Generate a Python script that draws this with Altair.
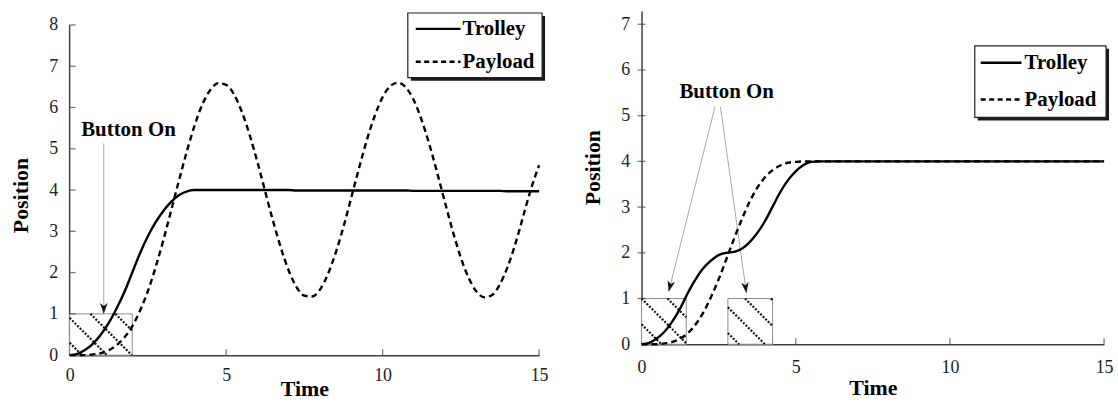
import math
import altair as alt
import pandas as pd

FONT = "Liberation Serif, DejaVu Serif, Times New Roman, serif"
AXIS_COLOR = "#404040"

# Sample times (s), shared by both runs
TIME = [0.0, 0.25, 0.5, 0.75, 1.0, 1.25, 1.5, 1.75, 2.0, 2.25, 2.5, 2.75,
        3.0, 3.25, 3.5, 3.75, 4.0, 4.25, 4.5, 4.75, 5.0, 5.25, 5.5, 5.75,
        6.0, 6.25, 6.5, 6.75, 7.0, 7.25, 7.5, 7.75, 8.0, 8.25, 8.5, 8.75,
        9.0, 9.25, 9.5, 9.75, 10.0, 10.25, 10.5, 10.75, 11.0, 11.25, 11.5, 11.75,
        12.0, 12.25, 12.5, 12.75, 13.0, 13.25, 13.5, 13.75, 14.0, 14.25, 14.5, 14.75,
        15.0]

# Run 1: one long button press
TROLLEY_1 = [0.00, 0.03, 0.13, 0.28, 0.50, 0.78, 1.13, 1.53, 2.00, 2.47, 2.88, 3.22,
             3.50, 3.72, 3.88, 3.97, 4.00, 4.00, 4.00, 4.00, 4.00, 4.00, 4.00, 4.00,
             4.00, 4.00, 4.00, 4.00, 4.00, 3.99, 3.99, 3.99, 3.99, 3.99, 3.99, 3.99,
             3.99, 3.99, 3.99, 3.99, 3.99, 3.99, 3.99, 3.99, 3.98, 3.98, 3.98, 3.98,
             3.98, 3.98, 3.98, 3.98, 3.98, 3.98, 3.98, 3.98, 3.97, 3.97, 3.97, 3.97,
             3.97]
PAYLOAD_1 = [0.00, 0.00, 0.00, 0.02, 0.05, 0.12, 0.24, 0.43, 0.70, 1.08, 1.55, 2.14,
             2.80, 3.52, 4.25, 4.95, 5.58, 6.09, 6.43, 6.59, 6.55, 6.32, 5.90, 5.34,
             4.68, 3.96, 3.25, 2.60, 2.05, 1.65, 1.44, 1.42, 1.59, 1.96, 2.48, 3.11,
             3.82, 4.54, 5.22, 5.80, 6.25, 6.52, 6.60, 6.48, 6.17, 5.69, 5.09, 4.40,
             3.68, 2.98, 2.36, 1.87, 1.54, 1.40, 1.46, 1.72, 2.15, 2.72, 3.39, 4.05,
             4.60]

# Run 2: two shorter presses
TROLLEY_2 = [0.00, 0.03, 0.13, 0.28, 0.50, 0.78, 1.12, 1.42, 1.66, 1.83, 1.95, 2.00,
             2.02, 2.09, 2.23, 2.43, 2.69, 3.01, 3.33, 3.59, 3.78, 3.92, 3.99, 4.00,
             4.00, 4.00, 4.00, 4.00, 4.00, 4.00, 4.00, 4.00, 4.00, 4.00, 4.00, 4.00,
             4.00, 4.00, 4.00, 4.00, 4.00, 4.00, 4.00, 4.00, 4.00, 4.00, 4.00, 4.00,
             4.00, 4.00, 4.00, 4.00, 4.00, 4.00, 4.00, 4.00, 4.00, 4.00, 4.00, 4.00,
             4.00]
PAYLOAD_2 = [0.00, 0.00, 0.00, 0.02, 0.05, 0.12, 0.24, 0.43, 0.69, 1.03, 1.42, 1.86,
             2.31, 2.73, 3.11, 3.42, 3.65, 3.81, 3.91, 3.97, 3.99, 4.00, 4.00, 4.00,
             4.00, 4.00, 4.00, 4.00, 4.00, 4.00, 4.00, 4.00, 4.00, 4.00, 4.00, 4.00,
             4.00, 4.00, 4.00, 4.00, 4.00, 4.00, 4.00, 4.00, 4.00, 4.00, 4.00, 4.00,
             4.00, 4.00, 4.00, 4.00, 4.00, 4.00, 4.00, 4.00, 4.00, 4.00, 4.00, 4.00,
             4.00]

# Button-on intervals (start, end) and the level drawn for them
PULSES_1 = [(0.0, 2.0)]
PULSES_2 = [(0.0, 1.45), (2.8, 4.25)]
PULSE_LEVEL = 1.0

X_TICKS = [0, 5, 10, 15]
Y_TICKS_1 = [0, 1, 2, 3, 4, 5, 6, 7, 8]
Y_TICKS_2 = [0, 1, 2, 3, 4, 5, 6, 7]

# "Button On" callouts: label position, arrows as (t_from, p_from, t_to, p_to)
LABEL_1 = ("Button On", 1.88, 5.45)
ARROWS_1 = [(1.09, 5.13, 1.09, 1.0)]
LABEL_2 = ("Button On", 2.76, 5.52)
ARROWS_2 = [(2.38, 5.19, 0.88, 1.15), (2.56, 5.19, 3.40, 1.12)]

SERIES = ["Trolley", "Payload"]
DASH = [6, 4]

# barbed arrow head with its tip at the origin, pointing down
ARROW_HEAD = "M0,0L-0.7,-2L0,-1.45L0.7,-2Z"


def hatch_segments(pulses, sx, sy, gap, phase):
    """Diagonal (down-right) hatch strokes clipped to each pulse rectangle."""
    rows = []
    for a, b in pulses:
        kmin = a * sx
        kmax = b * sx + PULSE_LEVEL * sy
        k = phase + gap * math.ceil((kmin - phase) / gap)
        while k < kmax:
            lo = max(a, (k - PULSE_LEVEL * sy) / sx)
            hi = min(b, k / sx)
            if hi > lo:
                rows.append({"h0": lo, "h1": hi,
                             "q0": (k - lo * sx) / sy, "q1": (k - hi * sx) / sy})
            k += gap
    return pd.DataFrame(rows)


def panel(trolley, payload, pulses, label, arrows, ymax, yticks, w, h, legend,
          x_pads, y_pads, title_y, cross_ticks, gap, phase, axis_top=None):
    sx = w / 15.0
    sy = h / ymax
    xs = alt.Scale(domain=[0, 15], nice=False, zero=False)
    ys = alt.Scale(domain=[0, ymax], nice=False, zero=False)
    x_axis = alt.Axis(values=X_TICKS, title="Time", labelPadding=x_pads[0],
                      titleY=x_pads[1], format="d")
    y_opts = dict(values=yticks, title="Position", labelPadding=y_pads[0],
                  titlePadding=y_pads[1], titleY=title_y, format="d")
    if axis_top is not None:
        y_opts["domain"] = False
    y_axis = alt.Axis(**y_opts)

    def X(f):
        return alt.X(f, type="quantitative", scale=xs, axis=x_axis)

    def Y(f):
        return alt.Y(f, type="quantitative", scale=ys, axis=y_axis)

    curves = pd.DataFrame({"t": TIME, "Trolley": trolley, "Payload": payload})
    boxes = pd.DataFrame({"t0": [a for a, _ in pulses], "t1": [b for _, b in pulses],
                          "p0": [0.0] * len(pulses), "p1": [PULSE_LEVEL] * len(pulses)})
    hatch = hatch_segments(pulses, sx, sy, gap, phase)
    arr = pd.DataFrame(arrows, columns=["a0", "b0", "a1", "b1"])
    arr["ang"] = [math.degrees(math.atan2(-(r.a1 - r.a0) * sx, (r.b0 - r.b1) * sy)) % 360
                  for r in arr.itertuples()]
    lab = pd.DataFrame({"text": [label[0]], "t": [label[1]], "p": [label[2]]})

    layers = []
    if axis_top is not None:
        # vertical axis line that stops at the top tick
        layers.append(
            alt.Chart(pd.DataFrame({"a": [0.0], "b": [axis_top]}))
            .mark_rule(color=AXIS_COLOR, strokeWidth=1.5)
            .encode(x=alt.value(0), y=Y("a"), y2="b"))
    layers += [
        alt.Chart(boxes).mark_rect(fill="white", stroke="#8c8c8c", strokeWidth=1)
        .encode(x=X("t0"), x2="t1", y=Y("p0"), y2="p1"),
        alt.Chart(hatch).mark_rule(color="#151515", strokeWidth=2.2, strokeDash=[2, 1.6])
        .encode(x=X("h0"), x2="h1", y=Y("q0"), y2="q1"),
        alt.Chart(arr).mark_rule(color="#a6a6a6", strokeWidth=1)
        .encode(x=X("a0"), x2="a1", y=Y("b0"), y2="b1"),
        alt.Chart(arr).mark_point(shape=ARROW_HEAD, filled=True, size=120,
                                  color="#151515", opacity=1, strokeWidth=0)
        .encode(x=X("a1"), y=Y("b1"), angle=alt.Angle("ang:Q", scale=None)),
        alt.Chart(lab).mark_text(font=FONT, fontSize=21, fontWeight="bold",
                                 color="black", align="center", baseline="middle")
        .encode(x=X("t"), y=Y("p"), text="text:N"),
        alt.Chart(curves).mark_line(color="black", strokeWidth=2.4, interpolate="monotone")
        .encode(x=X("t"), y=Y("Trolley")),
        alt.Chart(curves).mark_line(color="black", strokeWidth=2.4, strokeDash=DASH,
                                    interpolate="monotone")
        .encode(x=X("t"), y=Y("Payload")),
        alt.Chart(pd.DataFrame({"v": yticks[1:]}))
        .mark_tick(orient="horizontal", color=AXIS_COLOR, thickness=1.3,
                   size=8 if cross_ticks else 6)
        .encode(y=Y("v"), x=alt.value(0 if cross_ticks else 3)),
        alt.Chart(pd.DataFrame({"v": X_TICKS[1:]}))
        .mark_tick(orient="vertical", color=AXIS_COLOR, thickness=1.3, size=6)
        .encode(x=X("v"), y=alt.value(h - 3)),
    ]

    # boxed legend with a drop shadow
    bx0, bx1, by0, by1 = legend["box"]
    one = pd.DataFrame({"k": [0]})
    layers.append(alt.Chart(one).mark_rect(color="#1a1a1a").encode(
        x=alt.value(bx0 + 3), x2=alt.value(bx1 + 3),
        y=alt.value(by0 + 3), y2=alt.value(by1 + 3)))
    layers.append(alt.Chart(one).mark_rect(fill="white", stroke="#222222", strokeWidth=1.2)
                  .encode(x=alt.value(bx0), x2=alt.value(bx1),
                          y=alt.value(by0), y2=alt.value(by1)))
    lx0, lx1, tx = legend["x"]
    for name, ry in zip(SERIES, legend["rows"]):
        rule = dict(color="black", strokeWidth=2.4)
        if name == "Payload":
            rule["strokeDash"] = [5, 3.5]
        layers.append(alt.Chart(pd.DataFrame({"label": [name]})).mark_rule(**rule)
                      .encode(x=alt.value(lx0), x2=alt.value(lx1), y=alt.value(ry)))
        layers.append(alt.Chart(pd.DataFrame({"label": [name]}))
                      .mark_text(font=FONT, fontSize=21, fontWeight="bold", color="black",
                                 align="left", baseline="middle")
                      .encode(x=alt.value(tx), y=alt.value(ry), text="label:N"))

    return alt.layer(*layers).properties(width=w, height=h)


left = panel(TROLLEY_1, PAYLOAD_1, PULSES_1, LABEL_1, ARROWS_1, 8.337, Y_TICKS_1, 472, 346,
             {"box": (340, 475, 2, 67), "x": (348, 393, 395), "rows": (18, 51)},
             (11, 24), (12, 16), 185, False, 25, 12.5, axis_top=8)
right = panel(TROLLEY_2, PAYLOAD_2, PULSES_2, LABEL_2, ARROWS_2, 7.29, Y_TICKS_2, 465, 335,
              {"box": (335, 467, 35, 107), "x": (341, 382, 385), "rows": (52, 89)},
              (14, 34), (12, 16), 157, True, 26, 20)

chart = (
    alt.hconcat(left, right, spacing=34)
    .properties(padding={"left": 10, "top": 10, "right": 5, "bottom": 0},
                background="white")
    .configure(font=FONT)
    .configure_view(stroke=None)
    .configure_axis(domainColor=AXIS_COLOR, domainWidth=1.5, ticks=False, grid=False,
                    labelFont=FONT, labelFontSize=18, labelColor="#222222",
                    labelFlush=False, labelOverlap=False,
                    titleFont=FONT, titleFontSize=22, titleFontWeight="bold",
                    titleColor="black")
)

chart.save("out.html", embed_options={"renderer": "svg", "actions": False})
